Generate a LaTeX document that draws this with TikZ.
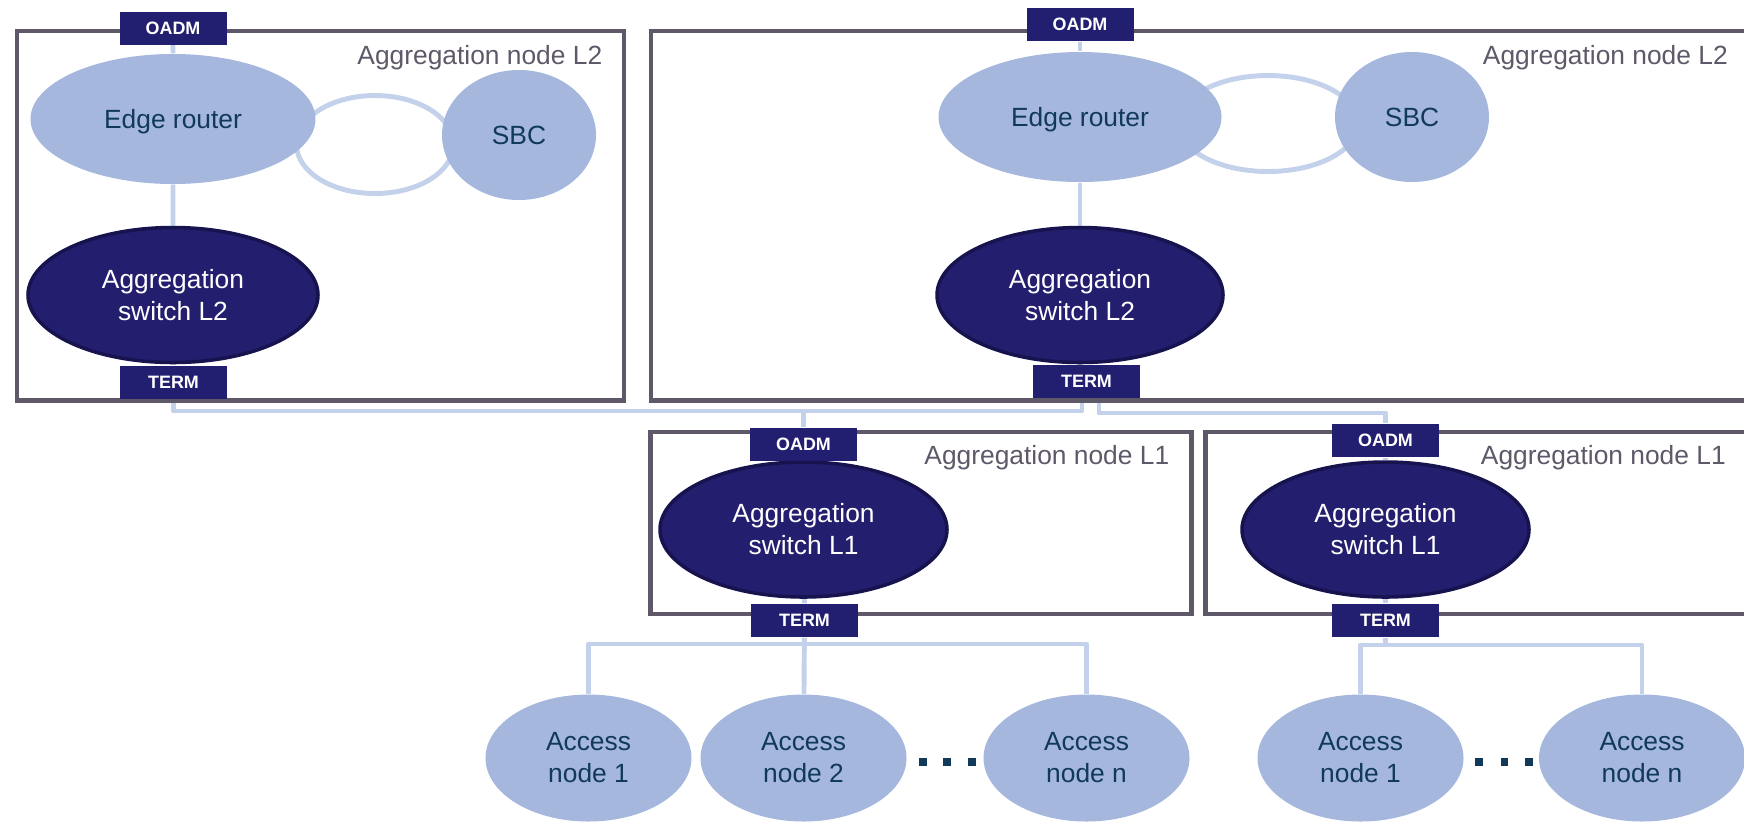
\documentclass[tikz,border=0pt]{standalone}
\usepackage{fontspec}
\setmainfont{Liberation Sans}
\usepackage{xcolor}
\usepackage{tikz}
\usetikzlibrary{positioning, shapes.geometric, backgrounds}
\definecolor{NetFrame}{HTML}{5F5869}
\definecolor{NetLight}{HTML}{A5B7DD}
\definecolor{NetDark}{HTML}{231E6E}
\definecolor{NetDarkEdge}{HTML}{17134F}
\definecolor{NetLink}{HTML}{C4D1EA}
\definecolor{NetTag}{HTML}{231F70}
\definecolor{NetText}{HTML}{10395A}
\definecolor{NetLabel}{HTML}{5E5868}

\begin{document}
\begin{tikzpicture}[
    frame/.style={rectangle, draw=NetFrame, line width=1.4pt,
                  inner sep=0pt, anchor=north west},
    framelabel/.style={text=NetLabel, anchor=base east, inner sep=0pt,
                       font=\fontsize{7.5}{9.1}\selectfont},
    light/.style={ellipse, fill=NetLight, text=NetText, inner sep=0pt,
                  align=center, font=\fontsize{7.5}{9.1}\selectfont},
    dark/.style={ellipse, fill=NetDark, draw=NetDarkEdge, line width=1pt,
                 text=white, inner sep=0pt, align=center,
                 minimum width=2.87cm, minimum height=1.35cm,
                 font=\fontsize{7.5}{9.1}\selectfont},
    access/.style={light, minimum width=2.06cm, minimum height=1.27cm},
    tag/.style={rectangle, fill=NetTag, text=white, inner sep=0pt,
                minimum width=1.07cm, minimum height=0.33cm,
                font=\bfseries\fontsize{5.1}{6}\selectfont},
    dotsq/.style={rectangle, fill=NetText, inner sep=0pt, minimum size=0.075cm},
    link/.style={draw=NetLink, line width=1.4pt, line join=round}]
  \useasboundingbox (0,0) rectangle (17.44,-8.22);

  % aggregation node frames
  \node[frame, minimum width=6.07cm,   minimum height=3.695cm] (l2a) at (0.145,-0.285) {};
  \node[frame, minimum width=10.965cm, minimum height=3.695cm] (l2b) at (6.485,-0.285) {};
  \node[frame, minimum width=5.41cm,   minimum height=1.82cm]  (l1a) at (6.48,-4.295) {};
  \node[frame, minimum width=5.42cm,   minimum height=1.82cm]  (l1b) at (12.03,-4.295) {};
  \node[framelabel] (l2alabel) at ([xshift=-0.235cm, yshift=-0.355cm]l2a.north east) {Aggregation node L2};
  \node[framelabel] (l2blabel) at ([xshift=-0.215cm, yshift=-0.355cm]l2b.north east) {Aggregation node L2};
  \node[framelabel] (l1alabel) at ([xshift=-0.24cm, yshift=-0.35cm]l1a.north east) {Aggregation node L1};
  \node[framelabel] (l1blabel) at ([xshift=-0.235cm, yshift=-0.35cm]l1b.north east) {Aggregation node L1};

  % left L2 node
  \node[light, minimum width=2.85cm, minimum height=1.30cm, text depth=0pt] (era) at (1.73,-1.19) {Edge router};
  \node[light, minimum width=1.54cm, minimum height=1.30cm] (sbca) at (5.19,-1.35) {SBC};
  \node[dark, minimum width=2.90cm] (swa) at (1.73,-2.95) {Aggregation\\switch L2};
  \node[tag] (oadma) at (1.73,-0.28) {OADM};
  \node[tag] (terma) at (1.735,-3.82) {TERM};

  % right L2 node
  \node[light, minimum width=2.83cm, minimum height=1.30cm, text depth=0pt] (erb) at (10.80,-1.17) {Edge router};
  \node[light, minimum width=1.54cm, minimum height=1.30cm] (sbcb) at (14.12,-1.17) {SBC};
  \node[dark, minimum width=2.86cm] (swb) at (10.80,-2.95) {Aggregation\\switch L2};
  \node[tag] (oadmb) at (10.80,-0.245) {OADM};
  \node[tag] (termb) at (10.865,-3.815) {TERM};

  % L1 nodes
  \node[dark] (swc) at (8.035,-5.295) {Aggregation\\switch L1};
  \node[tag] (oadmc) at (8.035,-4.445) {OADM};
  \node[tag] (termc) at (8.045,-6.205) {TERM};
  \node[dark] (swd) at (13.855,-5.295) {Aggregation\\switch L1};
  \node[tag] (oadmd) at (13.855,-4.405) {OADM};
  \node[tag] (termd) at (13.855,-6.205) {TERM};

  % access nodes
  \node[access] (acc1) at (5.885,-7.58) {Access\\node 1};
  \node[access] (acc2) at (8.035,-7.58) {Access\\node 2};
  \node[access] (accn) at (10.865,-7.58) {Access\\node n};
  \node[access] (accb1) at (13.605,-7.58) {Access\\node 1};
  \node[access] (accbn) at (16.42,-7.58) {Access\\node n};
  \foreach \x/\n in {9.23/1, 9.47/2, 9.72/3, 14.79/4, 15.045/5, 15.29/6}
    \node[dotsq] (dot\n) at (\x,-7.62) {};

  \begin{scope}[on background layer]
    \draw[link] (3.75,-1.445) ellipse [x radius=0.785, y radius=0.49];
    \draw[link] (12.68,-1.235) ellipse [x radius=0.90, y radius=0.48];
    \draw[link] (oadma) -- (era) -- (swa) -- (terma);
    \draw[link] (oadmb) -- (erb) -- (swb) -- (swb |- termb);
    \draw[link] (oadmc) -- (swc) -- (termc);
    \draw[link] (oadmd) -- (swd) -- (termd);
    % L2 to L1 ring
    \coordinate (busl) at (10.82,-4.11);
    \coordinate (busr) at (10.99,-4.13);
    \draw[link] (terma) |- (busl) -- (busl |- termb);
    \draw[link] (oadmc) -- (oadmc |- busl);
    \draw[link] (busr |- termb) -- (busr) -| (oadmd);
    % access trees
    \coordinate (busa) at (8.04,-6.44);
    \coordinate (busb) at (13.855,-6.45);
    \draw[link] (termc) -- (acc2);
    \draw[link] (acc1) |- (busa) -| (accn);
    \draw[link] (termd) -- (busb);
    \draw[link] (accb1) |- (busb) -| (accbn);
  \end{scope}
\end{tikzpicture}
\end{document}
